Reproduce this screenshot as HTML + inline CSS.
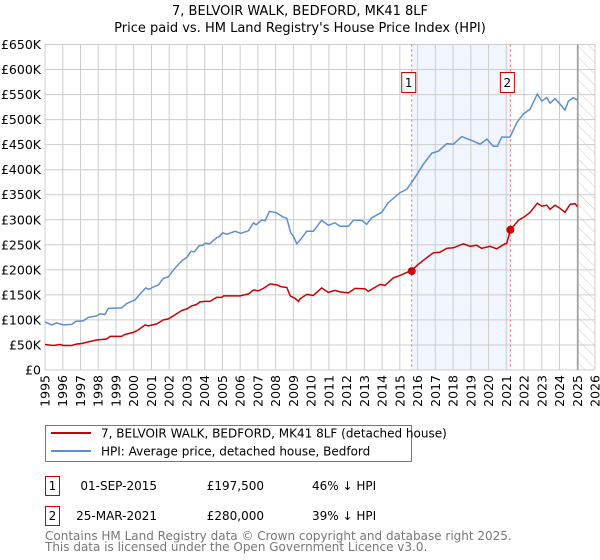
<!DOCTYPE html>
<html><head><meta charset="utf-8"><style>
body{margin:0;background:#fff;font-family:"Liberation Sans","DejaVu Sans",sans-serif;}
svg{display:block}
</style></head><body>
<svg id="c" width="600" height="560" xmlns="http://www.w3.org/2000/svg">
<defs><pattern id="hatch" width="8" height="8" patternUnits="userSpaceOnUse" patternTransform="rotate(-45)"><line x1="0" y1="0" x2="0" y2="8" stroke="#ccc" stroke-width="1"/></pattern></defs>
<text x="300" y="15" text-anchor="middle" font-size="13" font-family="DejaVu Sans, sans-serif">7, BELVOIR WALK, BEDFORD, MK41 8LF</text>
<text x="300" y="32" text-anchor="middle" font-size="13" font-family="DejaVu Sans, sans-serif">Price paid vs. HM Land Registry's House Price Index (HPI)</text>
<g id="plot"></g>
<g>
<rect x="45.5" y="425.5" width="366" height="36" fill="#fff" stroke="#777"/>
<line x1="51" y1="433" x2="91" y2="433" stroke="#cc0000" stroke-width="2"/>
<text x="101" y="437.5" font-size="12" font-family="DejaVu Sans, sans-serif">7, BELVOIR WALK, BEDFORD, MK41 8LF (detached house)</text>
<line x1="51" y1="451" x2="91" y2="451" stroke="#5b8fd1" stroke-width="2"/>
<text x="101" y="455.5" font-size="12" font-family="DejaVu Sans, sans-serif">HPI: Average price, detached house, Bedford</text>
</g>
<g font-size="12" font-family="DejaVu Sans, sans-serif">
<rect x="45.5" y="476.5" width="14" height="19" fill="#fff" stroke="#cc0000"/>
<text x="52.5" y="490" text-anchor="middle">1</text>
<text x="157" y="490" text-anchor="end">01-SEP-2015</text>
<text x="264" y="490" text-anchor="end">£197,500</text>
<text x="312" y="490">46% ↓ HPI</text>
<rect x="45.5" y="506.5" width="14" height="19" fill="#fff" stroke="#cc0000"/>
<text x="52.5" y="520" text-anchor="middle">2</text>
<text x="157" y="520" text-anchor="end">25-MAR-2021</text>
<text x="264" y="520" text-anchor="end">£280,000</text>
<text x="312" y="520">39% ↓ HPI</text>
</g>
<text x="45" y="540" font-size="12" fill="#777" font-family="DejaVu Sans, sans-serif">Contains HM Land Registry data © Crown copyright and database right 2025.</text>
<text x="45" y="551" font-size="12" fill="#777" font-family="DejaVu Sans, sans-serif">This data is licensed under the Open Government Licence v3.0.</text>
</svg>
<script>
const hpiYears=[1995.0,1995.38,1995.66,1996.03,1996.5,1996.75,1997.16,1997.44,1997.91,1998.1,1998.38,1998.57,1999.32,1999.61,2000.08,2000.36,2000.68,2000.86,2001.11,2001.39,2001.67,2001.95,2002.24,2002.71,2003.0,2003.23,2003.42,2003.68,2003.89,2004.02,2004.27,2004.68,2004.87,2005.02,2005.24,2005.71,2006.03,2006.47,2006.75,2006.9,2007.22,2007.41,2007.65,2008.06,2008.44,2008.63,2008.85,2009.0,2009.19,2009.37,2009.75,2010.12,2010.59,2010.97,2011.34,2011.63,2012.1,2012.38,2012.85,2013.13,2013.41,2013.98,2014.35,2015.01,2015.39,2015.85,2016.33,2016.8,2017.17,2017.64,2018.02,2018.49,2018.77,2019.14,2019.52,2019.9,2020.27,2020.5,2020.74,2021.21,2021.59,2021.96,2022.34,2022.75,2023.0,2023.28,2023.47,2023.75,2024.03,2024.31,2024.5,2024.78,2025.01];
const hpiValues=[96,90,94,90,91,97,98,105,108,112,111,123,124,133,140,152,164,161,166,170,183,186,200,218,225,237,236,248,249,253,252,264,268,274,271,277,273,278,294,290,300,298,317,314,305,303,274,267,252,259,277,277,299,289,294,287,287,299,299,291,304,315,334,354,361,384,411,433,437,452,451,466,462,457,451,461,447,447,465,465,494,511,521,551,537,544,533,542,531,519,537,544,539];
const ppYears=[1995.0,1995.47,1995.85,1996.03,1996.5,1996.79,1997.07,1997.54,1997.91,1998.48,1998.67,1999.32,1999.51,1999.98,2000.26,2000.64,2000.83,2001.3,2001.67,2001.95,2002.33,2002.71,2003.0,2003.27,2003.55,2003.74,2004.02,2004.3,2004.68,2004.96,2005.06,2005.62,2006.0,2006.47,2006.75,2007.03,2007.31,2007.69,2008.06,2008.35,2008.63,2008.82,2009.1,2009.29,2009.37,2009.75,2010.12,2010.59,2010.97,2011.34,2011.63,2012.1,2012.47,2013.04,2013.22,2013.88,2014.16,2014.63,2015.01,2015.39,2015.67,2016.04,2016.51,2016.89,2017.26,2017.64,2018.02,2018.58,2018.96,2019.33,2019.61,2020.08,2020.46,2020.93,2021.02,2021.23,2021.4,2021.68,2022.06,2022.34,2022.75,2023.0,2023.28,2023.47,2023.75,2024.03,2024.31,2024.6,2024.88,2025.01];
const ppValues=[51,49,51,49,49,52,53,57,60,62,67,67,71,75,80,90,88,92,100,102,110,119,122,128,131,136,137,137,145,145,148,148,148,152,160,158,163,172,170,166,165,148,143,137,142,151,149,164,155,159,156,154,163,162,157,171,169,184,189,195,199,211,224,234,235,243,244,252,247,249,243,247,242,252,252,280,287,299,307,315,333,327,329,321,329,323,315,331,332,326];
const saleYears=[2015.67,2021.23];
const saleValues=[197.5,280];
const saleLabels=["1","2"];
const yTicks=[0,50,100,150,200,250,300,350,400,450,500,550,600,650];
const yTickLabels=["£0","£50K","£100K","£150K","£200K","£250K","£300K","£350K","£400K","£450K","£500K","£550K","£600K","£650K"];
const xTicks=[1995,1996,1997,1998,1999,2000,2001,2002,2003,2004,2005,2006,2007,2008,2009,2010,2011,2012,2013,2014,2015,2016,2017,2018,2019,2020,2021,2022,2023,2024,2025,2026];
const dataEnd=2025.03;

const L=45,R=595,T=44.5,B=370;
const X0=1995,X1=2026,Y1=650;
const xs=v=>L+(v-X0)/(X1-X0)*(R-L);
const ys=v=>B-v/Y1*(B-T);
const NS="http://www.w3.org/2000/svg";
const g=document.getElementById('plot');
function mk(tag,attrs,parent){const e=document.createElementNS(NS,tag);for(const k in attrs)e.setAttribute(k,attrs[k]);(parent||g).appendChild(e);return e;}

// shaded region
const sh=mk('rect',{x:xs(saleYears[0]),y:T,width:xs(saleYears[1])-xs(saleYears[0]),height:B-T,fill:'#eef3fc',opacity:0.8});


// hatch
const ht=mk('rect',{x:xs(dataEnd),y:T,width:R-xs(dataEnd),height:B-T,fill:'url(#hatch)'});


// gridlines
yTicks.forEach((v,i)=>{
  const ln=mk('line',{x1:L,x2:R,y1:ys(v),y2:ys(v),stroke:'#ccc','stroke-width':1});
  
  
  const t=mk('text',{x:L-4,y:ys(v)+4.5,'text-anchor':'end','font-size':12.5,'font-family':'DejaVu Sans, sans-serif'});
  t.textContent=yTickLabels[i];
  
  
});
xTicks.forEach(v=>{
  const ln=mk('line',{x1:xs(v),x2:xs(v),y1:T,y2:B,stroke:'#ccc','stroke-width':1});
  
  
  const t=mk('text',{x:0,y:0,'text-anchor':'end','font-size':12.5,'font-family':'DejaVu Sans, sans-serif',transform:`translate(${xs(v)+4.5},${B+5}) rotate(-90)`});
  t.textContent=String(v);
  
  
});
const el=mk('line',{x1:xs(dataEnd),x2:xs(dataEnd),y1:T,y2:B,stroke:'#999','stroke-width':1.5});


// sale dashed lines & labels
saleYears.forEach((v,i)=>{
  const d=mk('line',{x1:xs(v),x2:xs(v),y1:T,y2:B,stroke:'#ee6666','stroke-width':1,'stroke-dasharray':'2,3'});
  
  
  const bx=mk('rect',{x:xs(v)-10,y:72.5,width:14,height:20,fill:'#fff',stroke:'#cc0000'});
  
  
  const t=mk('text',{x:xs(v)-3,y:87,'text-anchor':'middle','font-size':12,'font-family':'DejaVu Sans, sans-serif'});
  t.textContent=saleLabels[i];
  
  
});
// series
function path(xsA,vs){return xsA.map((x,i)=>(i?'L':'M')+xs(x).toFixed(1)+','+ys(vs[i]).toFixed(1)).join(' ');}
const hp=mk('path',{d:path(hpiYears,hpiValues),fill:'none',stroke:'#5b8fd1','stroke-width':1.5});


const pp=mk('path',{d:path(ppYears,ppValues),fill:'none',stroke:'#cc0000','stroke-width':1.5});


saleYears.forEach((v,i)=>{
  const c=mk('circle',{cx:xs(v),cy:ys(saleValues[i]),r:4,fill:'#cc0000'});
  
  
});
</script>
</body></html>
